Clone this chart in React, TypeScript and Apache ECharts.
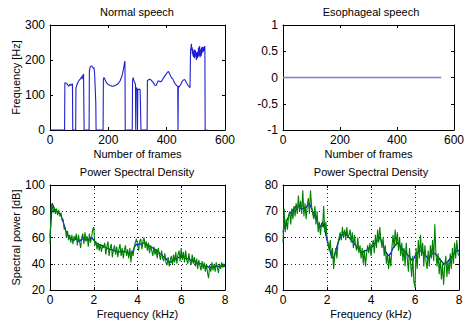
import React, { useEffect, useRef } from "react";
import * as echarts from "echarts";

// ---- Normal speech pitch contour (frame, Hz) ----
const pitchFrames = [
  0, 50, 51, 54, 57, 60, 62, 64, 66, 68, 70, 72, 74, 76, 77, 78,
  88, 89, 92, 95, 98, 101, 104, 107, 109, 110, 111, 112, 114, 115, 116, 117,
  134, 135, 137, 140, 143, 146, 149, 151, 153, 155, 157, 158,
  182, 183, 185, 188, 192, 196, 200, 205, 210, 215, 220, 225, 230, 235, 240, 245, 249, 252, 255, 257, 258,
  282, 283, 285, 287, 289, 291, 293, 294, 295, 297, 299, 300, 301, 303, 305, 307, 309, 311, 312,
  333, 334, 337, 341, 345, 349, 352, 355, 358, 361, 364, 368, 371, 375, 379, 383, 387, 391, 395, 399, 403, 406, 409, 412, 415, 418, 421, 424, 427, 430, 433, 436, 438, 439,
  440, 443, 446, 449, 452, 456, 460, 463, 466, 470, 474, 477, 480, 481,
  482, 483, 484, 485, 486, 487, 488, 489, 490, 491, 492, 493, 494, 495, 496, 497, 498, 499, 500,
  501, 502, 503, 504, 505, 506, 507, 508, 509, 510, 511, 512, 513, 514, 515, 516, 517, 518, 519, 520,
  521, 522, 523, 524, 525, 526, 527, 528, 529, 530, 531, 532, 540,
];
const pitchHz = [
  0, 0, 135, 134, 133, 130, 127, 125, 128, 131, 130, 127, 128, 132, 130, 0,
  0, 120, 128, 135, 140, 143, 146, 150, 153, 145, 152, 155, 158, 160, 72, 0,
  0, 168, 178, 182, 183, 180, 176, 178, 160, 120, 78, 0,
  0, 145, 150, 145, 138, 133, 130, 128, 126, 125, 126, 128, 130, 134, 140, 150, 162, 175, 190, 197, 0,
  0, 140, 150, 143, 138, 135, 130, 0, 122, 118, 116, 0, 118, 115, 116, 117, 115, 116, 0,
  0, 142, 143, 145, 144, 140, 138, 134, 130, 127, 128, 135, 141, 139, 138, 140, 146, 151, 156, 161, 165, 167, 163, 157, 152, 148, 146, 140, 135, 131, 128, 126, 124, 0,
  125, 123, 127, 131, 137, 142, 144, 143, 138, 132, 127, 124, 121, 120,
  232, 228, 240, 246, 228, 236, 218, 232, 212, 226, 208, 224, 214, 230, 205, 222, 212, 228, 210,
  218, 200, 222, 206, 216, 205, 224, 212, 236, 210, 225, 215, 240, 218, 208, 228, 214, 232, 212, 236,
  220, 238, 224, 230, 222, 236, 226, 238, 232, 240, 236, 0, 0,
];

// ---- Esophageal speech pitch contour ----
const esoFrames = [0, 555];
const esoHz = [0, 0];

// ---- PSD, normal speech (dB) ----
const psdStepFine = 0.05; // kHz per green sample
const psdStepCoarse = 0.1; // kHz per blue sample
const psdNormalGreen = [
  55, 82, 86, 79, 83, 78, 82, 77, 81, 76,
  79, 73, 74, 66, 68, 60, 65, 58, 62, 56,
  62, 55, 61, 58, 63, 54, 62, 57, 52, 60,
  63, 55, 64, 57, 61, 53, 63, 56, 60, 66,
  68, 54, 57, 51, 56, 50, 55, 49, 54, 52,
  56, 47, 53, 57, 46, 52, 55, 45, 51, 54,
  47, 53, 45, 51, 55, 46, 52, 44, 50, 54,
  46, 51, 44, 52, 41, 50, 46, 53, 56, 59,
  55, 50, 57, 59, 51, 57, 60, 52, 57, 50,
  56, 48, 54, 50, 46, 53, 47, 51, 44, 52,
  47, 43, 50, 44, 42, 48, 41, 39, 45, 38,
  43, 46, 39, 47, 41, 49, 40, 47, 50, 42,
  52, 43, 49, 41, 50, 43, 40, 48, 42, 39,
  47, 40, 45, 38, 44, 36, 43, 39, 35, 42,
  36, 41, 34, 40, 33, 29, 39, 34, 41, 35,
  40, 34, 41, 37, 33, 40, 36, 41, 37, 40,
  38,
];
const psdNormalBlue = [
  60, 86, 82, 80, 79, 77, 72, 66, 62, 60,
  59, 58, 59, 57, 58, 59, 58, 59, 58, 60,
  58, 56, 55, 54, 54, 53, 52, 51, 51, 50,
  50, 49, 49, 50, 49, 49, 48, 48, 50, 54,
  55, 55, 55, 56, 55, 54, 53, 52, 51, 50,
  48, 47, 45, 44, 42, 41, 42, 43, 44, 45,
  46, 45, 44, 44, 43, 42, 42, 41, 40, 40,
  39, 38, 38, 37, 37, 38, 38, 38, 38, 38,
  38,
];

// ---- PSD, esophageal speech (dB) ----
const psdEsoGreen = [
  58, 71, 62, 67, 63, 68, 70, 65, 71, 67,
  72, 68, 73, 69, 76, 70, 74, 69, 78, 68,
  73, 67, 72, 75, 69, 78, 72, 69, 67, 72,
  65, 70, 62, 66, 61, 65, 64, 72, 62, 66,
  60, 58, 55, 59, 52, 56, 48, 53, 56, 52,
  58, 60, 62, 59, 64, 60, 63, 59, 64, 60,
  61, 63, 58, 62, 56, 61, 57, 55, 60, 54,
  57, 52, 56, 50, 55, 49, 54, 57, 54, 58,
  53, 57, 59, 54, 61, 56, 63, 58, 64, 59,
  56, 60, 53, 57, 50, 54, 48, 53, 49, 56,
  61, 56, 63, 57, 62, 55, 60, 53, 58, 51,
  56, 49, 58, 52, 47, 56, 50, 45, 53, 43,
  41, 56, 48, 59, 52, 61, 53, 58, 49, 57,
  51, 48, 55, 49, 57, 52, 59, 51, 65, 54,
  49, 54, 46, 52, 44, 50, 42, 49, 53, 45,
  51, 46, 54, 48, 56, 50, 58, 52, 59, 54,
  53,
];
const psdEsoBlue = [
  62, 65, 67, 69, 70, 71, 72, 72, 71, 71,
  71, 72, 73, 71, 69, 67, 65, 64, 66, 63,
  59, 56, 53, 52, 55, 58, 60, 61, 62, 61,
  60, 59, 58, 57, 56, 55, 54, 55, 55, 56,
  56, 57, 58, 59, 60, 58, 56, 54, 53, 54,
  56, 57, 58, 57, 56, 55, 54, 53, 52, 51,
  53, 54, 55, 55, 54, 53, 52, 53, 54, 54,
  53, 52, 51, 50, 50, 51, 52, 53, 54, 55,
  55,
];

const FONT = "'Liberation Sans', Arial, sans-serif";
const TICK_FONT = "'Liberation Sans Narrow', 'Arial Narrow', 'Liberation Sans', sans-serif";
const zip = (xs: number[], ys: number[]) => xs.map((x, i) => [x, ys[i]]);
const spaced = (ys: number[], step: number) => ys.map((y, i) => [+(i * step).toFixed(3), y]);

export default function App() {
  const ref = useRef<HTMLDivElement>(null);
  useEffect(() => {
    if (!ref.current) return;
    const chart = echarts.init(ref.current, null, { renderer: "svg" });

    const grids = [
      { left: 50, top: 25, width: 175, height: 105 },
      { left: 283, top: 25, width: 176, height: 105 },
      { left: 50, top: 185, width: 175, height: 105 },
      { left: 283, top: 185, width: 176, height: 105 },
    ];
    const xs = [
      { min: 0, max: 600, interval: 200, name: "Number of frames", grid: false },
      { min: 0, max: 600, interval: 200, name: "Number of frames", grid: false },
      { min: 0, max: 8, interval: 2, name: "Frequency (kHz)", grid: true },
      { min: 0, max: 8, interval: 2, name: "Frequency (kHz)", grid: true },
    ];
    const ys = [
      { min: 0, max: 300, interval: 100, name: "Frequency [Hz]", grid: false },
      { min: -1, max: 1, interval: 0.5, name: "", grid: false },
      { min: 20, max: 100, interval: 20, name: "Spectral power [dB]", grid: true },
      { min: 40, max: 80, interval: 10, name: "", grid: true },
    ];
    const line = { show: true, onZero: false, lineStyle: { color: "#000", width: 1 } };
    const tick = { show: true, inside: true, length: 3, lineStyle: { color: "#000" } };
    const split = (show: boolean) => ({
      show,
      lineStyle: { color: "#222", width: 1, type: [1, 3] as any },
    });
    const label = { color: "#000", fontSize: 12, fontFamily: TICK_FONT };

    const xAxis: any[] = [];
    const yAxis: any[] = [];
    xs.forEach((a, i) => {
      xAxis.push({
        type: "value", gridIndex: i, position: "bottom", min: a.min, max: a.max, interval: a.interval,
        axisLine: line, axisTick: tick, axisLabel: { ...label, margin: 4 },
        splitLine: split(a.grid),
        name: a.name, nameLocation: "middle", nameGap: 18,
        nameTextStyle: { color: "#000", fontSize: 11, fontFamily: FONT },
      });
      xAxis.push({
        type: "value", gridIndex: i, position: "top", min: a.min, max: a.max, interval: a.interval,
        axisLine: line, axisTick: tick, axisLabel: { show: false }, splitLine: { show: false },
      });
    });
    ys.forEach((a, i) => {
      yAxis.push({
        type: "value", gridIndex: i, position: "left", min: a.min, max: a.max, interval: a.interval,
        axisLine: line, axisTick: tick, axisLabel: { ...label, margin: 5 },
        splitLine: split(a.grid),
        name: a.name, nameLocation: "middle", nameGap: 29,
        nameTextStyle: { color: "#000", fontSize: 11, fontFamily: FONT },
      });
      yAxis.push({
        type: "value", gridIndex: i, position: "right", min: a.min, max: a.max, interval: a.interval,
        axisLine: line, axisTick: tick, axisLabel: { show: false }, splitLine: { show: false },
      });
    });

    const titleStyle = { color: "#000", fontSize: 11, fontWeight: "normal" as const, fontFamily: FONT };
    const mk = (text: string, cx: number, top: number) => ({
      text, left: cx, top, textAlign: "center", textStyle: titleStyle, padding: 0,
    });

    chart.setOption({
      animation: false,
      backgroundColor: "#fff",
      title: [
        mk("Normal speech", 137, 6),
        mk("Esophageal speech", 371, 6),
        mk("Power Spectral Density", 137, 166),
        mk("Power Spectral Density", 371, 166),
      ],
      grid: grids,
      xAxis,
      yAxis,
      series: [
        {
          type: "line", xAxisIndex: 0, yAxisIndex: 0, data: zip(pitchFrames, pitchHz),
          showSymbol: false, lineStyle: { color: "#1f1fd0", width: 1.1 },
        },
        {
          type: "line", xAxisIndex: 2, yAxisIndex: 2, data: zip(esoFrames, esoHz),
          showSymbol: false, lineStyle: { color: "#7b7bd6", width: 1.5 },
        },
        {
          type: "line", xAxisIndex: 4, yAxisIndex: 4, data: spaced(psdNormalBlue, psdStepCoarse),
          showSymbol: false, lineStyle: { color: "#0000ff", width: 1.2 },
        },
        {
          type: "line", xAxisIndex: 4, yAxisIndex: 4, data: spaced(psdNormalGreen, psdStepFine),
          showSymbol: false, lineStyle: { color: "#008000", width: 1.1 },
        },
        {
          type: "line", xAxisIndex: 6, yAxisIndex: 6, data: spaced(psdEsoBlue, psdStepCoarse),
          showSymbol: false, lineStyle: { color: "#0000ff", width: 1.2 },
        },
        {
          type: "line", xAxisIndex: 6, yAxisIndex: 6, data: spaced(psdEsoGreen, psdStepFine),
          showSymbol: false, lineStyle: { color: "#008000", width: 1.1 },
        },
      ],
    });
    return () => chart.dispose();
  }, []);

  return (
    <div
      ref={ref}
      style={{ position: "fixed", left: 0, top: 0, width: 467, height: 324, background: "#fff" }}
    />
  );
}
